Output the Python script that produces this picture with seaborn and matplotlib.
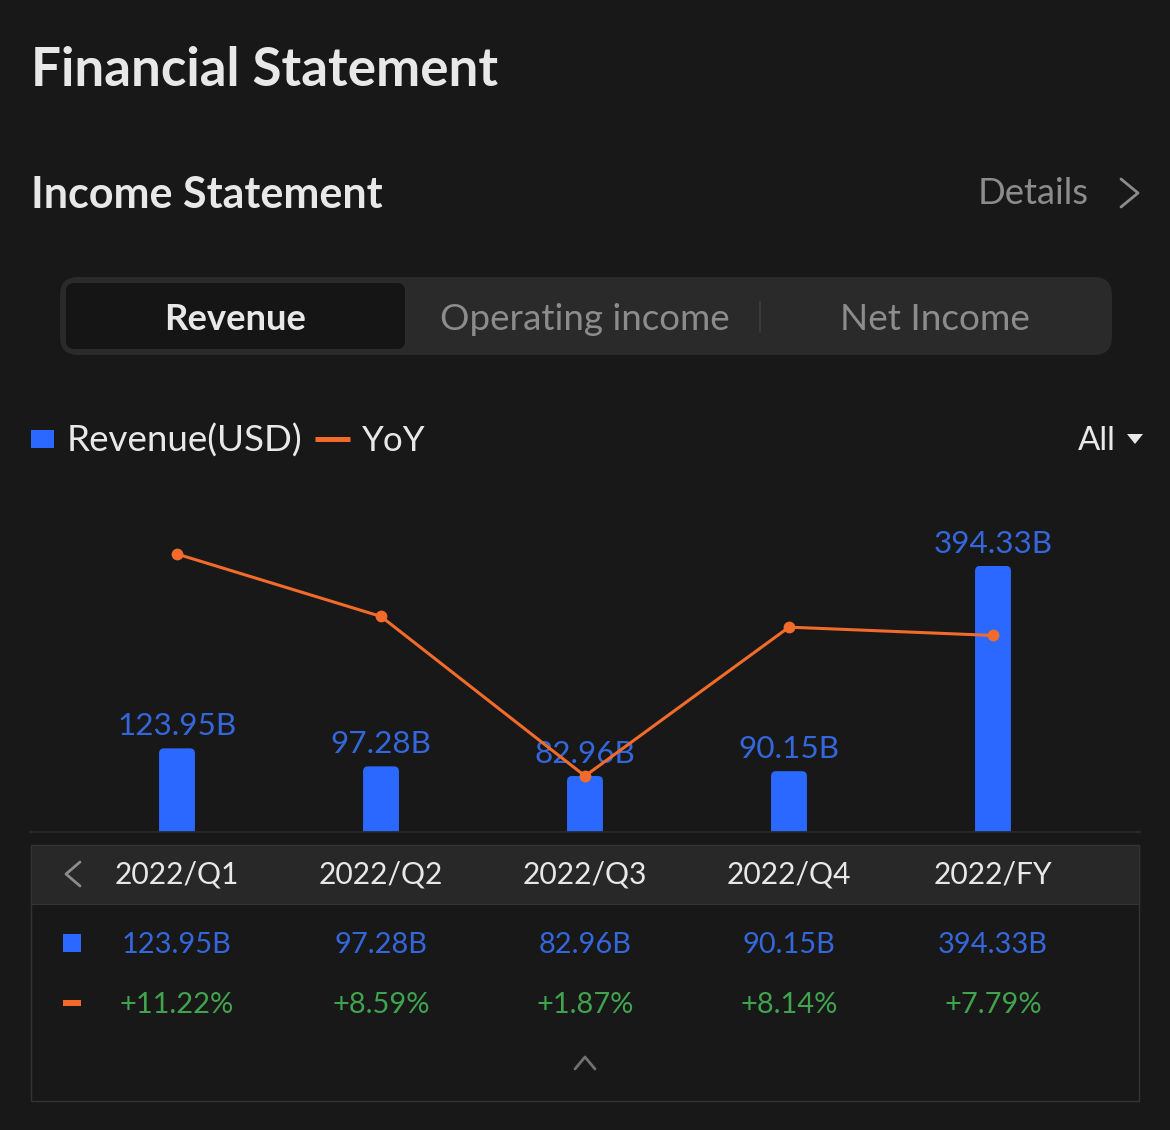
import matplotlib
matplotlib.use("Agg")
import matplotlib.pyplot as plt
import seaborn as sns
from matplotlib.patches import FancyBboxPatch, Rectangle
from matplotlib.transforms import blended_transform_factory

periods = ["2022/Q1", "2022/Q2", "2022/Q3", "2022/Q4", "2022/FY"]
revenue = [123.95, 97.28, 82.96, 90.15, 394.33]
yoy = [11.22, 8.59, 1.87, 8.14, 7.79]
revenue_labels = ["123.95B", "97.28B", "82.96B", "90.15B", "394.33B"]
yoy_labels = ["+11.22%", "+8.59%", "+1.87%", "+8.14%", "+7.79%"]

BG = "#181818"
BLUE = "#2a68ff"
BLUE_TXT = "#3467dc"
ORANGE = "#f26b2b"
GREEN = "#40a34e"
WHITE = "#e8e8e8"
GREY = "#8c8c8c"
W, H = 1170, 1130

sns.set_theme(style="dark")
plt.rcParams["font.family"] = ["Lato", "DejaVu Sans"]

fig = plt.figure(figsize=(W / 100, H / 100), dpi=100, facecolor=BG)


def px(size):
    # text size given in image pixels
    return size * 72 / 100


# overlay in image pixels for the app chrome around the chart
ui = fig.add_axes([0, 0, 1, 1], zorder=0)
ui.set_xlim(0, W)
ui.set_ylim(H, 0)
ui.axis("off")
ui.set_facecolor(BG)

ui.text(31, 71, "Financial Statement", color=WHITE, fontsize=px(53), fontweight="bold", va="center")
ui.text(31, 195, "Income Statement", color=WHITE, fontsize=px(43), fontweight="bold", va="center")
ui.text(978, 194, "Details", color=GREY, fontsize=px(36.5), va="center")
ui.plot([1121, 1138, 1121], [179, 193, 207], color=GREY, lw=2)

# segmented control
ui.add_patch(FancyBboxPatch((60, 277), 1052, 78, boxstyle="round,pad=0,rounding_size=18",
                            fc="#2a2a2a", ec="none"))
ui.add_patch(FancyBboxPatch((66, 283), 339, 66, boxstyle="round,pad=0,rounding_size=8",
                            fc="#151515", ec="none"))
ui.plot([760, 760], [302, 332], color="#3a3a3a", lw=1.5)
ui.text(235, 319, "Revenue", color=WHITE, fontsize=px(36.5), fontweight="bold", ha="center", va="center")
ui.text(585, 319, "Operating income", color=GREY, fontsize=px(36.8), ha="center", va="center")
ui.text(935, 319, "Net Income", color=GREY, fontsize=px(37), ha="center", va="center")

# legend row
ui.add_patch(Rectangle((31, 430), 23, 18, fc=BLUE, ec="none"))
ui.text(67, 441, "Revenue(USD)", color=WHITE, fontsize=px(36.7), va="center")
ui.plot([315, 350], [439, 439], color=ORANGE, lw=3.6, solid_capstyle="butt")
ui.text(362, 441, "YoY", color=WHITE, fontsize=px(35), va="center")
ui.text(1078, 441, "All", color=WHITE, fontsize=px(33), va="center")
ui.fill([1127, 1143, 1135], [434, 434, 444], color=WHITE, lw=0)

# table box
ui.add_patch(Rectangle((31, 845), 1108, 256, fc="none", ec="#333333", lw=1.0))
ui.add_patch(Rectangle((31, 845), 1108, 59, fc="#282828", ec="#333333", lw=0.8))
ui.plot([80, 66, 80], [862, 874, 886], color=GREY, lw=2)
ui.add_patch(Rectangle((63, 934), 18, 18, fc=BLUE, ec="none"))
ui.add_patch(Rectangle((63, 1000), 18, 6, fc=ORANGE, ec="none"))
ui.plot([575, 585, 595], [1069, 1057, 1069], color="#707070", lw=2)

# chart axes, the x limits keep categories 204px apart
ax = fig.add_axes([30 / W, 1 - 832 / H, 1110 / W, 332 / H], zorder=1)
ax.patch.set_alpha(0)
sns.barplot(x=periods, y=revenue, color=BLUE, width=0.176, saturation=1, linewidth=0, ax=ax)
ax.set_xlim(-0.7206, 4.7206)
ax.set_ylim(0, 492)
ax.set_yticks([])
ax.set_ylabel("")
ax.set_xlabel("")
ax.tick_params(axis="x", length=0, pad=37, labelsize=px(30), labelcolor=WHITE)
ax.set_xticks(range(len(periods)), periods, va="baseline")
for name, spine in ax.spines.items():
    spine.set_visible(name == "bottom")
ax.spines["bottom"].set_color("#2a2a2a")
ax.grid(False)

# round the bar tops
fig.canvas.draw()
for bar in ax.patches:
    (x0, y0), (x1, y1) = ui.transData.inverted().transform(
        ax.transData.transform([(bar.get_x(), 0), (bar.get_x() + bar.get_width(), bar.get_height())]))
    clip = FancyBboxPatch((x0, y1), x1 - x0, y0 - y1 + 10, boxstyle="round,pad=0,rounding_size=5",
                          transform=ui.transData)
    bar.set_clip_path(clip)

for i, (val, lab) in enumerate(zip(revenue, revenue_labels)):
    ax.annotate(lab, (i, val), xytext=(0, px(22)), textcoords="offset points", ha="center", va="center",
                color=BLUE_TXT, fontsize=px(31.5))

# YoY line on its own scale
ax2 = ax.twinx()
ax2.patch.set_alpha(0)
sns.lineplot(x=range(len(yoy)), y=yoy, color=ORANGE, lw=2.2, marker="o", markersize=8.5,
             markeredgewidth=0, ax=ax2, legend=False, errorbar=None)
ax2.set_ylim(-0.489, 13.496)
ax2.set_xlim(ax.get_xlim())
ax2.set_yticks([])
ax2.set_ylabel("")
for spine in ax2.spines.values():
    spine.set_visible(False)
ax2.grid(False)

# table rows share the chart's x scale
row = blended_transform_factory(ax.transData, ui.transData)
for i in range(len(periods)):
    ax.text(i, 945, revenue_labels[i], transform=row, color=BLUE_TXT, fontsize=px(29),
            ha="center", va="center", clip_on=False)
    ax.text(i, 1005, yoy_labels[i], transform=row, color=GREEN, fontsize=px(29),
            ha="center", va="center", clip_on=False)

fig.savefig("out.png", dpi=100, facecolor=BG)
